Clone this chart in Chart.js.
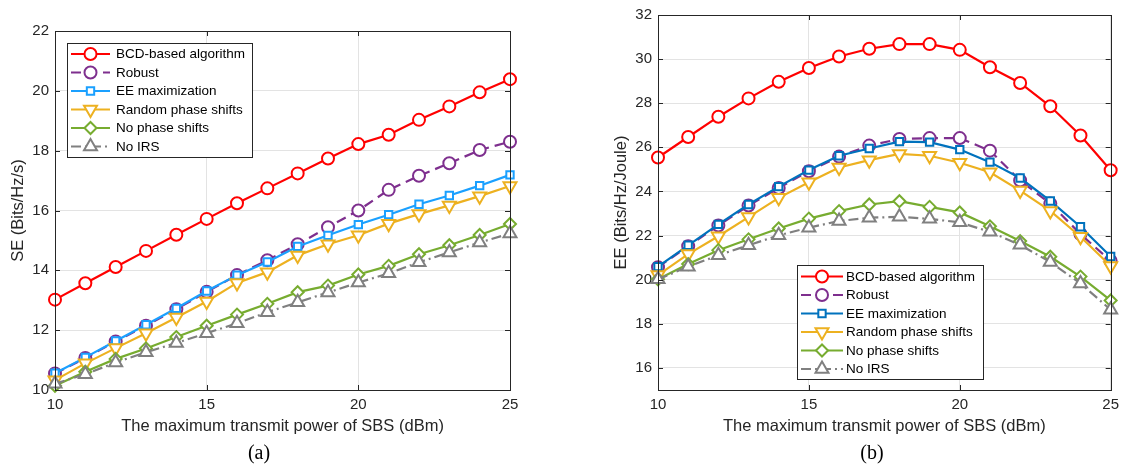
<!DOCTYPE html>
<html>
<head>
<meta charset="utf-8">
<title>SE / EE vs SBS power</title>
<script src="https://cdn.jsdelivr.net/npm/chart.js@4.4.1/dist/chart.umd.min.js"></script>
<style>
    html, body { margin: 0; padding: 0; background: #fff; }
    #wrap { position: relative; width: 1125px; height: 466px; overflow: hidden; }
    .panel { position: absolute; top: 0; height: 440px; }
    #panelA { left: 0; width: 560px; }
    #panelB { left: 560px; width: 565px; }
    .caption {
        position: absolute; top: 439px; line-height: 26px;
        font-family: "Liberation Serif", "DejaVu Serif", serif; font-size: 20px; color: #000;
        transform: translateX(-50%);
    }
</style>
</head>
<body>
<div id="wrap">
    <div class="panel" id="panelA"><canvas id="chartA"></canvas></div>
    <div class="panel" id="panelB"><canvas id="chartB"></canvas></div>
    <div class="caption" style="left:259px">(a)</div>
    <div class="caption" style="left:872px">(b)</div>
</div>

<script>
// Datos
const powerDbm = [10, 11, 12, 13, 14, 15, 16, 17, 18, 19, 20, 21, 22, 23, 24, 25];
const seriesLabels = ['BCD-based algorithm', 'Robust', 'EE maximization', 'Random phase shifts', 'No phase shifts', 'No IRS'];

// (a) SE
const seBcd    = [13.02, 13.57, 14.11, 14.65, 15.19, 15.72, 16.24, 16.74, 17.24, 17.74, 18.22, 18.53, 19.03, 19.48, 19.95, 20.39];
const seRobust = [10.55, 11.07, 11.62, 12.15, 12.70, 13.28, 13.84, 14.34, 14.87, 15.44, 16.00, 16.69, 17.16, 17.58, 18.02, 18.30];
const seEeMax  = [10.56, 11.09, 11.64, 12.18, 12.73, 13.31, 13.84, 14.28, 14.80, 15.17, 15.53, 15.86, 16.21, 16.50, 16.83, 17.19];
const seRandom = [10.33, 10.89, 11.40, 11.90, 12.42, 12.96, 13.58, 13.94, 14.50, 14.87, 15.17, 15.56, 15.88, 16.17, 16.48, 16.82];
const seNoPhase = [10.14, 10.61, 11.04, 11.39, 11.77, 12.15, 12.52, 12.88, 13.27, 13.49, 13.86, 14.15, 14.54, 14.84, 15.18, 15.55];
const seNoIrs  = [10.21, 10.53, 10.92, 11.26, 11.57, 11.90, 12.23, 12.60, 12.93, 13.26, 13.59, 13.90, 14.27, 14.60, 14.93, 15.23];

// (b) EE
const eeBcd    = [25.54, 26.47, 27.39, 28.22, 28.97, 29.60, 30.12, 30.47, 30.68, 30.68, 30.42, 29.63, 28.92, 27.86, 26.54, 24.96];
const eeRobust = [20.57, 21.52, 22.46, 23.36, 24.16, 24.92, 25.58, 26.08, 26.38, 26.42, 26.42, 25.85, 24.50, 23.45, 22.07, 20.85];
const eeEeMax  = [20.59, 21.56, 22.51, 23.41, 24.22, 24.97, 25.62, 25.95, 26.26, 26.24, 25.90, 25.33, 24.61, 23.57, 22.40, 21.05];
const eeRandom = [20.21, 21.16, 21.97, 22.84, 23.71, 24.42, 25.09, 25.42, 25.70, 25.62, 25.30, 24.87, 24.04, 23.12, 21.95, 20.62];
const eeNoPhase = [20.02, 20.71, 21.34, 21.83, 22.32, 22.77, 23.11, 23.41, 23.56, 23.30, 23.05, 22.42, 21.75, 21.04, 20.14, 19.06];
const eeNoIrs  = [20.02, 20.59, 21.11, 21.56, 22.01, 22.36, 22.66, 22.81, 22.85, 22.76, 22.60, 22.17, 21.58, 20.80, 19.83, 18.64];

// Ticks
const xTicks = [10, 15, 20, 25];
const seTicks = [10, 12, 14, 16, 18, 20, 22];
const eeTicks = [16, 18, 20, 22, 24, 26, 28, 30, 32];

// Estilo de cada serie (marcador, trazo)
const FONT = '"Liberation Sans", Arial, Helvetica, sans-serif';
const AXIS_COLOR = '#262626';
const markerStyles = [
    { pointStyle: 'circle',   radius: 6,   rotation: 0,   dash: [] },
    { pointStyle: 'circle',   radius: 6,   rotation: 0,   dash: [10, 6] },
    { pointStyle: 'rect',     radius: 5.2, rotation: 0,   dash: [] },
    { pointStyle: 'triangle', radius: 7.5, rotation: 180, dash: [] },
    { pointStyle: 'rectRot',  radius: 6,   rotation: 0,   dash: [] },
    { pointStyle: 'triangle', radius: 7.5, rotation: 0,   dash: [10, 4, 2, 4] }
];
const colorsA = ['#ff0000', '#7e2f8e', '#1aa0ff', '#edb120', '#77ac30', '#808080'];
const colorsB = ['#ff0000', '#7e2f8e', '#0072bd', '#edb120', '#77ac30', '#808080'];

function buildDatasets(seriesList, colors) {
    const n = seriesList.length;
    return seriesList.map((values, i) => {
        const m = markerStyles[i];
        return {
            label: seriesLabels[i],
            data: powerDbm.map((x, k) => ({ x: x, y: values[k] })),
            borderColor: colors[i],
            borderWidth: 2.2,
            borderDash: m.dash,
            pointStyle: m.pointStyle,
            pointRadius: m.radius,
            pointRotation: m.rotation,
            pointBorderWidth: 2,
            pointBorderColor: colors[i],
            pointBackgroundColor: '#ffffff',
            fill: false,
            tension: 0,
            clip: false,
            order: n - i // las ultimas series quedan encima, como en MATLAB
        };
    });
}

// Caja completa con ticks hacia dentro
const axesBox = {
    id: 'axesBox',
    afterDatasetsDraw(chart) {
        const { ctx, chartArea: a, scales } = chart;
        const tl = 5;
        ctx.save();
        ctx.strokeStyle = AXIS_COLOR;
        ctx.lineWidth = 1;
        ctx.setLineDash([]);
        ctx.strokeRect(Math.round(a.left) + 0.5, Math.round(a.top) + 0.5,
            Math.round(a.right - a.left), Math.round(a.bottom - a.top));
        ctx.beginPath();
        scales.x.ticks.forEach(t => {
            const px = Math.round(scales.x.getPixelForValue(t.value)) + 0.5;
            ctx.moveTo(px, a.bottom); ctx.lineTo(px, a.bottom - tl);
            ctx.moveTo(px, a.top); ctx.lineTo(px, a.top + tl);
        });
        scales.y.ticks.forEach(t => {
            const py = Math.round(scales.y.getPixelForValue(t.value)) + 0.5;
            ctx.moveTo(a.left, py); ctx.lineTo(a.left + tl, py);
            ctx.moveTo(a.right, py); ctx.lineTo(a.right - tl, py);
        });
        ctx.stroke();
        ctx.restore();
    }
};

// Leyenda estilo MATLAB: linea + marcador + texto
const matlabLegend = {
    id: 'matlabLegend',
    afterDatasetsDraw(chart, args, opts) {
        const ctx = chart.ctx;
        ctx.save();
        ctx.fillStyle = '#ffffff';
        ctx.fillRect(opts.x, opts.y, opts.w, opts.h);
        ctx.strokeStyle = AXIS_COLOR;
        ctx.lineWidth = 1;
        ctx.strokeRect(opts.x + 0.5, opts.y + 0.5, opts.w, opts.h);
        chart.data.datasets.forEach((ds, i) => {
            const cy = opts.y + opts.firstRow + i * opts.rowH;
            const x0 = opts.x + opts.lineStart;
            ctx.strokeStyle = ds.borderColor;
            ctx.lineWidth = ds.borderWidth;
            ctx.setLineDash(ds.borderDash || []);
            ctx.beginPath();
            ctx.moveTo(x0, cy);
            ctx.lineTo(x0 + opts.lineLen, cy);
            ctx.stroke();
            ctx.setLineDash([]);
            ctx.fillStyle = '#ffffff';
            ctx.lineWidth = ds.pointBorderWidth;
            Chart.helpers.drawPoint(ctx, {
                pointStyle: ds.pointStyle,
                radius: ds.pointRadius,
                rotation: ds.pointRotation,
                borderWidth: ds.pointBorderWidth
            }, x0 + opts.lineLen / 2, cy);
            ctx.fillStyle = '#000000';
            ctx.font = '13.5px ' + FONT;
            ctx.textBaseline = 'middle';
            ctx.textAlign = 'left';
            ctx.fillText(ds.label, opts.x + opts.textX, cy + 0.5);
        });
        ctx.restore();
    }
};

function makeChart(canvasId, datasets, cfg) {
    return new Chart(document.getElementById(canvasId), {
        type: 'line',
        data: { datasets: datasets },
        options: {
            responsive: true,
            maintainAspectRatio: false,
            animation: false,
            layout: { padding: cfg.padding },
            plugins: {
                legend: { display: false },
                tooltip: { enabled: false },
                matlabLegend: cfg.legend
            },
            scales: {
                x: {
                    type: 'linear',
                    min: 10,
                    max: 25,
                    afterBuildTicks: s => { s.ticks = xTicks.map(v => ({ value: v })); },
                    afterFit: s => { s.height = 50; },
                    grid: { color: '#e3e3e3', drawTicks: false },
                    border: { display: false },
                    ticks: { color: AXIS_COLOR, font: { family: FONT, size: 15 }, padding: 6, maxRotation: 0 },
                    title: {
                        display: true,
                        text: 'The maximum transmit power of SBS (dBm)',
                        color: AXIS_COLOR,
                        font: { family: FONT, size: 16.5 },
                        padding: { top: 0, bottom: 4 }
                    }
                },
                y: {
                    min: cfg.yMin,
                    max: cfg.yMax,
                    afterBuildTicks: s => { s.ticks = cfg.yTicks.map(v => ({ value: v })); },
                    afterFit: s => { s.width = 55; },
                    grid: { color: '#e3e3e3', drawTicks: false },
                    border: { display: false },
                    ticks: { color: AXIS_COLOR, font: { family: FONT, size: 15 }, padding: 6 },
                    title: {
                        display: true,
                        text: cfg.yTitle,
                        color: AXIS_COLOR,
                        font: { family: FONT, size: 16.5 },
                        padding: { top: 9, bottom: 0 }
                    }
                }
            }
        },
        plugins: [axesBox, matlabLegend]
    });
}

makeChart('chartA',
    buildDatasets([seBcd, seRobust, seEeMax, seRandom, seNoPhase, seNoIrs], colorsA),
    {
        yMin: 10, yMax: 22, yTicks: seTicks, yTitle: 'SE (Bits/Hz/s)',
        padding: { left: 0, right: 50, top: 31, bottom: 0 },
        legend: { x: 67, y: 43, w: 185, h: 114, firstRow: 11, rowH: 18.5, lineStart: 4, lineLen: 39, textX: 49 }
    });

makeChart('chartB',
    buildDatasets([eeBcd, eeRobust, eeEeMax, eeRandom, eeNoPhase, eeNoIrs], colorsB),
    {
        yMin: 15, yMax: 32, yTicks: eeTicks, yTitle: 'EE (Bits/Hz/Joule)',
        padding: { left: 43, right: 10, top: 13, bottom: 0 },
        legend: { x: 237, y: 265, w: 186, h: 114, firstRow: 11.5, rowH: 18.5, lineStart: 4, lineLen: 42, textX: 49 }
    });
</script>
</body>
</html>
